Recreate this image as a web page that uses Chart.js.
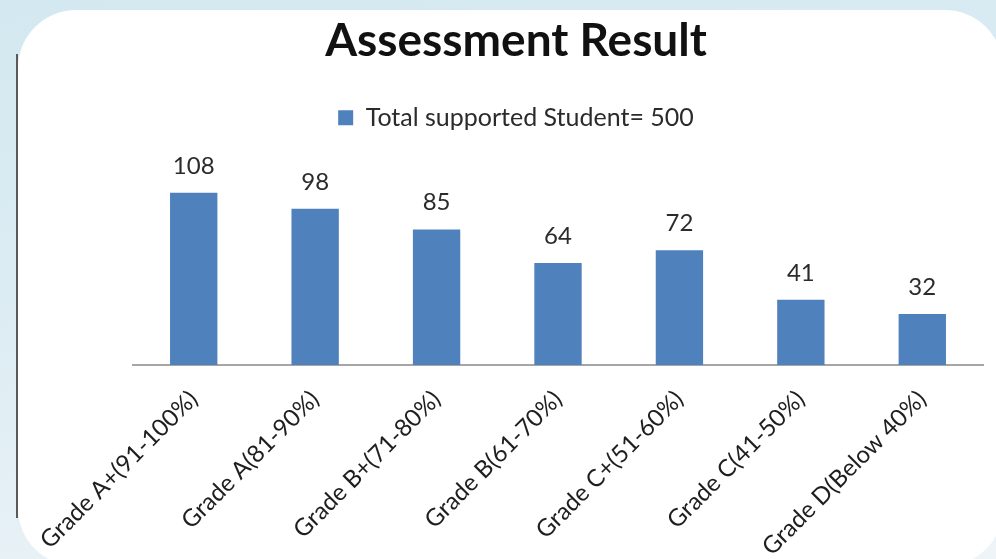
<!DOCTYPE html>
<html>
<head>
<meta charset="utf-8">
<script src="https://cdn.jsdelivr.net/npm/chart.js@4.4.0/dist/chart.umd.min.js"></script>
<style>
  html, body { margin: 0; padding: 0; }
  body {
    width: 996px; height: 559px; overflow: hidden; position: relative;
    background: linear-gradient(170deg, #d3e8f0 0%, #dcecf3 40%, #eef4f8 100%);
  }
  .panel {
    position: absolute; left: 18px; top: 10px; width: 985px; height: 556px;
    background: #fff; border-radius: 58px;
  }
  .edge {
    position: absolute; left: 16px; top: 54px; width: 2px; height: 464px;
    background: #5a5a5a;
  }
  .wrap { position: absolute; left: 0; top: 0; width: 996px; height: 559px; }
</style>
</head>
<body>
<div class="panel"></div>
<div class="edge"></div>
<div class="wrap"><canvas id="myChart"></canvas></div>
<script>
  // Dados do gráfico
  const categories = ['Grade A+(91-100%)', 'Grade A(81-90%)', 'Grade B+(71-80%)', 'Grade B(61-70%)',
    'Grade C+(51-60%)', 'Grade C(41-50%)', 'Grade D(Below 40%)'];
  const students = [108, 98, 85, 64, 72, 41, 32];
  const seriesName = 'Total supported Student= 500';

  const fontFamily = 'Lato, "Open Sans", sans-serif';

  // Rótulos de valor acima das barras
  const valueLabels = {
    id: 'valueLabels',
    afterDatasetsDraw(chart) {
      const ctx = chart.ctx;
      const meta = chart.getDatasetMeta(0);
      ctx.save();
      ctx.font = '24px ' + fontFamily;
      ctx.fillStyle = '#2b2b2b';
      ctx.textAlign = 'center';
      ctx.textBaseline = 'alphabetic';
      meta.data.forEach(function(bar, i) {
        ctx.fillText(String(students[i]), bar.x, bar.y - 19);
      });
      ctx.restore();
    }
  };

  const data = {
    labels: categories,
    datasets: [{
      label: seriesName,
      data: students,
      backgroundColor: '#4F81BD',
      borderWidth: 0,
      categoryPercentage: 1,
      barPercentage: 0.39
    }]
  };

  const options = {
    responsive: true,
    maintainAspectRatio: false,
    animation: false,
    layout: { padding: { left: 49, right: 13, top: 10, bottom: 0 } },
    plugins: {
      title: {
        display: true,
        text: 'Assessment Result',
        color: '#111',
        font: { family: fontFamily, size: 46, weight: 'bold', lineHeight: 1.2 },
        padding: { top: 4, bottom: 26 }
      },
      legend: {
        display: true,
        labels: {
          boxWidth: 15, boxHeight: 15,
          color: '#2b2b2b',
          font: { family: fontFamily, size: 25 },
          padding: 10
        }
      },
      tooltip: { enabled: false }
    },
    scales: {
      x: {
        grid: { display: false },
        border: { display: true, color: '#a6a6a6', width: 2 },
        ticks: {
          color: '#1e1e1e',
          font: { family: fontFamily, size: 24 },
          minRotation: 45, maxRotation: 45,
          padding: 12
        },
        afterFit(scale) { scale.height = 194; }
      },
      y: {
        min: 0,
        max: 141,
        grid: { display: false },
        border: { display: false },
        ticks: { display: false },
        afterFit(scale) { scale.width = 84; }
      }
    }
  };

  const ctx = document.getElementById('myChart').getContext('2d');
  const myChart = new Chart(ctx, {
    type: 'bar',
    data: data,
    options: options,
    plugins: [valueLabels]
  });
</script>
</body>
</html>
